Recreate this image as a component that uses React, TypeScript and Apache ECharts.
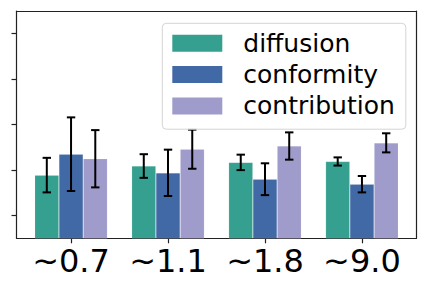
import React, { useEffect, useRef } from "react";
import * as echarts from "echarts";

const categories = ["~0.7", "~1.1", "~1.8", "~9.0"];
const seriesNames = ["diffusion", "conformity", "contribution"];
const diffusion = [1.89, 2.09, 2.17, 2.19];
const diffusionErr = [0.38, 0.26, 0.17, 0.09];
const conformity = [2.35, 1.94, 1.8, 1.69];
const conformityErr = [0.81, 0.51, 0.35, 0.18];
const contribution = [2.25, 2.46, 2.53, 2.6];
const contributionErr = [0.63, 0.43, 0.3, 0.21];
const yTicks = [1, 2, 3, 4, 5];
const colors = ["#35a08f", "#4169a6", "#9f9ccb"];

const BAR_W = 0.25;

export default function App() {
  const ref = useRef<HTMLDivElement>(null);
  useEffect(() => {
    document.body.style.margin = "0";
    if (!ref.current) return;
    const chart = echarts.init(ref.current, null, { renderer: "svg" });
    const means = [diffusion, conformity, contribution];
    const errs = [diffusionErr, conformityErr, contributionErr];
    const font = "DejaVu Sans";
    const spine = { show: true, onZero: false, lineStyle: { color: "#222", width: 1.2 } };
    const barSeries: any[] = means.map((vals, s) => ({
      type: "bar",
      name: seriesNames[s],
      barWidth: 24.24,
      barGap: "-100%",
      itemStyle: {
        color: colors[s],
        borderColor: "rgba(255,255,255,0.22)",
        borderWidth: 0.6,
      },
      data: vals.map((v, i) => [i + (s - 1) * BAR_W, v]),
    }));
    const errData: number[][] = [];
    means.forEach((vals, s) =>
      vals.forEach((v, i) => errData.push([i + (s - 1) * BAR_W, v, errs[s][i]]))
    );
    chart.setOption({
      animation: false,
      grid: {
        left: 16.5,
        top: 11,
        width: 400,
        height: 227.3,
        show: false,
      },
      legend: {
        orient: "vertical",
        left: 162.3,
        top: 23.3,
        data: seriesNames,
        icon: "rect",
        itemWidth: 50,
        itemHeight: 17,
        itemGap: 6.3,
        padding: [7.5, 11, 10.8, 10],
        backgroundColor: "rgba(255,255,255,0.85)",
        borderColor: "#d4d4d4",
        borderWidth: 1,
        borderRadius: 4,
        itemStyle: { borderWidth: 0 },
        textStyle: {
          fontFamily: font,
          fontSize: 25,
          color: "#000",
          lineHeight: 17,
          padding: [0, 0, 0, 16],
        },
      },
      xAxis: [
        {
          type: "value",
          position: "bottom",
          min: -0.5625,
          max: 3.5625,
          splitLine: { show: false },
          axisLine: spine,
          axisTick: {
            show: true,
            length: 5,
            customValues: categories.map((_, i) => i),
            lineStyle: { color: "#222", width: 1.2 },
          },
          axisLabel: {
            show: true,
            customValues: categories.map((_, i) => i),
            formatter: (v: number) => categories[Math.round(v)] ?? "",
            fontFamily: font,
            fontSize: 32,
            color: "#000",
            margin: 7,
          },
        },
        {
          type: "value",
          position: "top",
          min: -0.5625,
          max: 3.5625,
          splitLine: { show: false },
          axisLine: spine,
          axisTick: { show: false },
          axisLabel: { show: false },
        },
      ],
      yAxis: [
        {
          type: "value",
          position: "left",
          min: 0.5,
          max: 5.5,
          splitLine: { show: false },
          axisLine: spine,
          axisTick: {
            show: true,
            length: 5,
            customValues: yTicks,
            lineStyle: { color: "#222", width: 1.2 },
          },
          axisLabel: { show: false },
        },
        {
          type: "value",
          position: "right",
          min: 0.5,
          max: 5.5,
          splitLine: { show: false },
          axisLine: spine,
          axisTick: { show: false },
          axisLabel: { show: false },
        },
      ],
      series: [
        ...barSeries,
        {
          type: "custom",
          name: "errors",
          z: 3,
          encode: { x: 0, y: 1 },
          data: errData,
          renderItem: (params: any, api: any) => {
            const x = api.value(0);
            const m = api.value(1);
            const e = api.value(2);
            const top = api.coord([x, m + e]);
            const bot = api.coord([x, m - e]);
            const cap = 4.2;
            const style = { stroke: "#000", lineWidth: 2 };
            return {
              type: "group",
              children: [
                { type: "line", shape: { x1: top[0], y1: top[1], x2: bot[0], y2: bot[1] }, style },
                { type: "line", shape: { x1: top[0] - cap, y1: top[1], x2: top[0] + cap, y2: top[1] }, style },
                { type: "line", shape: { x1: bot[0] - cap, y1: bot[1], x2: bot[0] + cap, y2: bot[1] }, style },
              ],
            };
          },
        },
      ],
    });
    return () => chart.dispose();
  }, []);
  return <div ref={ref} style={{ width: 428, height: 291 }} />;
}
